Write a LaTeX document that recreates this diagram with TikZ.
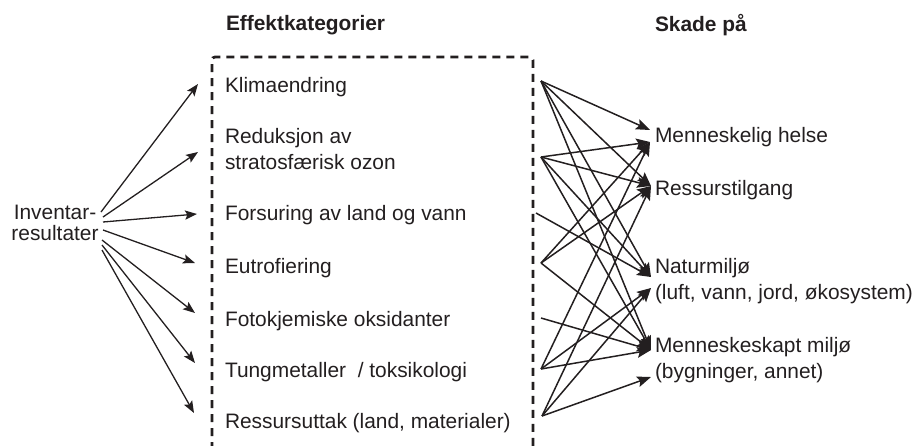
\documentclass[tikz,border=0pt]{standalone}
\usepackage{fontspec}
\setmainfont{Liberation Sans}
\usetikzlibrary{arrows.meta,calc}
\definecolor{ink}{HTML}{231F20}
\begin{document}
\begin{tikzpicture}[x=0.5pt,y=-0.5pt,
  every node/.style={inner sep=0pt,outer sep=0pt,text=ink,font=\fontsize{10.45}{13}\selectfont},
  lbl/.style={anchor=west,align=left},
  head/.style={anchor=west,font=\fontsize{10.45}{13}\selectfont\bfseries},
  inarrow/.style={draw=ink,line width=0.65pt,-{Stealth[length=6pt,width=4.6pt,inset=1.2pt]}},
  outarrow/.style={draw=ink,line width=0.75pt,-{Stealth[length=7pt,width=5.4pt,inset=1.3pt]}},
  frame/.style={draw=ink,line width=1.4pt,dash pattern=on 4pt off 3pt,rounded corners=1.5pt}]
\useasboundingbox (0,0) rectangle (914,445);

% headings
\node[head] (hcat) at (226,25) {Effektkategorier};
\node[head] (hdmg) at (655,25) {Skade på};

% dashed category frame, open at the bottom
\begin{scope}
\clip (0,0) rectangle (914,445);
\draw[frame] (212,450) -- (212,57) -- (533,57) -- (533,450);
\end{scope}

% inventory results
\node[align=center,font=\fontsize{10.45}{10.2}\selectfont] (inv) at (55,223) {Inventar-\\resultater};

% impact categories
\node[lbl] (c1) at (225,87)  {Klimaendring};
\node[lbl] (c2) at (225,149) {Reduksjon av\\stratosfærisk ozon};
\node[lbl] (c3) at (225,215) {Forsuring av land og vann};
\node[lbl] (c4) at (225,268) {Eutrofiering};
\node[lbl] (c5) at (225,321) {Fotokjemiske oksidanter};
\node[lbl] (c6) at (225,372) {Tungmetaller~~/ toksikologi};
\node[lbl] (c7) at (225,423) {Ressursuttak (land, materialer)};

% damage categories
\node[lbl] (d1) at (655,137) {Menneskelig helse};
\node[lbl] (d2) at (655,190) {Ressurstilgang};
\node[lbl] (d3) at (655,281) {Naturmiljø\\(luft, vann, jord, økosystem)};
\node[lbl] (d4) at (655,360) {Menneskeskapt miljø\\(bygninger, annet)};

% arrow ports on the inventory side
\coordinate (o1) at (101,212);
\coordinate (o2) at (103,217);
\coordinate (o3) at (103,222);
\coordinate (o4) at (103,230);
\coordinate (o5) at (102,240);
\coordinate (o6) at (102,245);
\coordinate (o7) at (102,250);
% arrow tips in front of the frame
\coordinate (i1) at (198,84);
\coordinate (i2) at (198,152);
\coordinate (i3) at (197,214);
\coordinate (i4) at (195,263);
\coordinate (i5) at (195,313);
\coordinate (i6) at (195,363);
\coordinate (i7) at (194,413);

\foreach \k in {1,...,7} \draw[inarrow] (o\k) -- (i\k);

% ports right of the frame
\coordinate (s1) at (541,81);
\coordinate (s2) at (541,157);
\coordinate (s3) at (536,213);
\coordinate (s4) at (541,263);
\coordinate (s5) at (541,318);
\coordinate (s6) at (541,369);
\coordinate (s7) at (542,416);
% arrow tips at the damage categories
\coordinate (t1a) at (650,130);
\coordinate (t1b) at (650,142);
\coordinate (t2) at (651,186);
\coordinate (t3a) at (651,277);
\coordinate (t3b) at (651,288);
\coordinate (t4a) at (651,350);
\coordinate (t4b) at (651,377);

\foreach \s/\t in {s1/t1a,s1/t2,s1/t3a,s1/t4a,
                   s2/t1b,s2/t2,s2/t3a,s2/t4a,
                   s3/t3a,
                   s4/t1b,s4/t2,s4/t4a,
                   s5/t4a,
                   s6/t1b,s6/t3b,s6/t4a,
                   s7/t2,s7/t3b,s7/t4b}
  \draw[outarrow] (\s) -- (\t);
\end{tikzpicture}
\end{document}
